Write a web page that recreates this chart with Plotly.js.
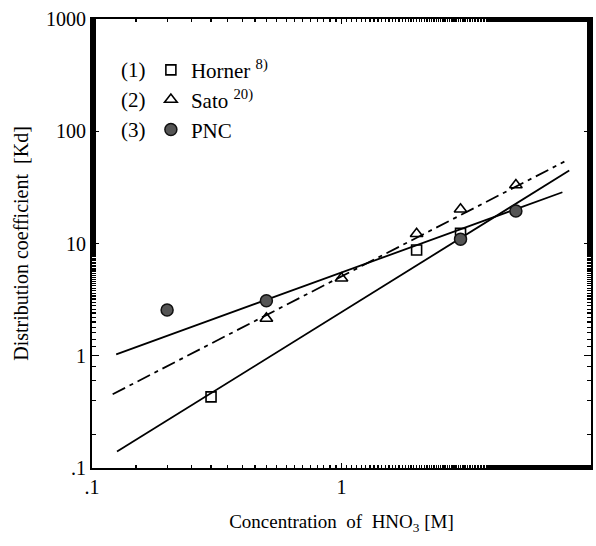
<!DOCTYPE html>
<html>
<head>
<meta charset="utf-8">
<script src="https://cdn.plot.ly/plotly-3.0.1.min.js"></script>
<style>html,body{margin:0;padding:0;background:#fff;}#chart{width:596px;height:546px;}</style>
</head>
<body>
<div id="chart"></div>
<script>
// Measured points
const hornerX = [0.3, 2, 3];
const hornerY = [0.43, 8.75, 12.3];
const satoX = [0.5, 1, 2, 3, 5];
const satoY = [2.15, 4.9, 12.2, 20.2, 33.2];
const pncX = [0.2, 0.5, 3, 5];
const pncY = [2.56, 3.09, 10.9, 19.5];
// Fitted lines (end points)
const hornerFitX = [0.126, 8.18];
const hornerFitY = [0.14, 44.6];
const satoFitX = [0.121, 7.82];
const satoFitY = [0.454, 53.6];
const pncFitX = [0.125, 7.68];
const pncFitY = [1.03, 28.6];
// Tick labels
const xTickVals = [0.1, 1, 10];
const xTickText = ['.1', '1', '10'];
const yTickVals = [0.1, 1, 10, 100, 1000];
const yTickText = ['.1', '1', '10', '100', '1000'];
const legendNums = ['(1)', '(2)', '(3)'];

const serif = 'Liberation Serif, Times New Roman, serif';
const rowY = [0.886, 0.820, 0.753];

const traces = [
  {x: hornerFitX, y: hornerFitY, mode: 'lines', line: {color: '#000', width: 1.8}, showlegend: false, hoverinfo: 'skip'},
  {x: satoFitX, y: satoFitY, mode: 'lines', line: {color: '#000', width: 1.8, dash: '14px,5px,4px,5px'}, showlegend: false, hoverinfo: 'skip'},
  {x: pncFitX, y: pncFitY, mode: 'lines', line: {color: '#000', width: 1.8}, showlegend: false, hoverinfo: 'skip'},
  {x: hornerX, y: hornerY, mode: 'markers', name: 'Horner <sup>8)</sup>', legend: 'legend',
   marker: {symbol: 'square-open', size: 10, color: '#000', line: {width: 1.6, color: '#000'}}},
  {x: satoX, y: satoY, mode: 'markers', name: 'Sato <sup>20)</sup>', legend: 'legend2',
   marker: {symbol: 'triangle-up-open', size: 11, color: '#000', line: {width: 1.6, color: '#000'}}},
  {x: pncX, y: pncY, mode: 'markers', name: 'PNC', legend: 'legend3',
   marker: {symbol: 'circle', size: 12, color: '#555', line: {width: 1.5, color: '#111'}}}
];

const annotations = legendNums.map((t, i) => ({
  xref: 'paper', yref: 'paper', x: 0.055, y: rowY[i],
  xanchor: 'left', yanchor: 'middle', text: t, showarrow: false,
  font: {family: serif, size: 21, color: '#000'}
}));

function leg(i) {
  return {x: 0.118, y: rowY[i], xanchor: 'left', yanchor: 'middle',
          bgcolor: 'rgba(0,0,0,0)', font: {family: serif, size: 21, color: '#000'}};
}

const layout = {
  width: 596, height: 546,
  margin: {l: 92, r: 5, t: 19, b: 78},
  paper_bgcolor: '#fff', plot_bgcolor: '#fff',
  font: {family: serif, color: '#000'},
  showlegend: true,
  legend: leg(0), legend2: leg(1), legend3: leg(2),
  xaxis: {
    type: 'log', range: [-1, 1], showgrid: false, zeroline: false,
    showline: true, linecolor: '#000', linewidth: 2, mirror: 'ticks',
    ticks: 'inside', ticklen: 5, tickwidth: 1.2, tickcolor: '#000',
    tickvals: xTickVals, ticktext: xTickText,
    tickfont: {family: serif, size: 20, color: '#000'},
    minor: {ticks: 'inside', ticklen: 3, tickcolor: '#000', showgrid: false},
    title: {text: 'Concentration  of  HNO<sub>3</sub> [M]', font: {family: serif, size: 19, color: '#000'}, standoff: 18}
  },
  yaxis: {
    type: 'log', range: [-1, 3], showgrid: false, zeroline: false,
    showline: true, linecolor: '#000', linewidth: 2, mirror: 'ticks',
    ticks: 'inside', ticklen: 7, tickwidth: 1.2, tickcolor: '#000',
    tickvals: yTickVals, ticktext: yTickText,
    tickfont: {family: serif, size: 20, color: '#000'},
    minor: {ticks: 'inside', ticklen: 4, tickcolor: '#000', showgrid: false},
    title: {text: 'Distribution coefficient  [Kd]', font: {family: serif, size: 20, color: '#000'}, standoff: 12}
  },
  annotations: annotations
};

Plotly.newPlot('chart', traces, layout, {displayModeBar: false, staticPlot: true});
</script>
</body>
</html>
